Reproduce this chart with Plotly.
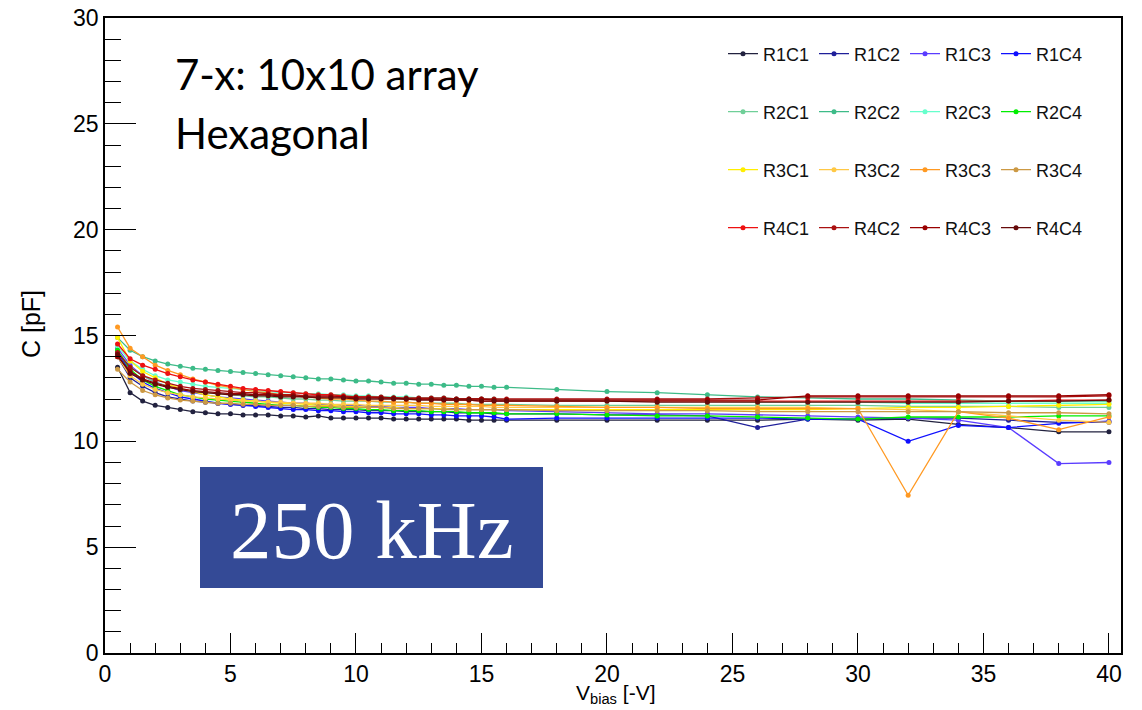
import plotly.graph_objects as go

# ---------------- data ----------------
V_BIAS = [0.5, 1, 1.5, 2, 2.5, 3, 3.5, 4, 4.5, 5, 5.5, 6, 6.5, 7, 7.5, 8,
          8.5, 9, 9.5, 10, 10.5, 11, 11.5, 12, 12.5, 13, 13.5, 14, 14.5, 15, 15.5, 16,
          18, 20, 22, 24, 26, 28, 30, 32, 34, 36, 38, 40]

R1C1 = [13.5, 12.3, 11.9, 11.7, 11.6, 11.5, 11.4, 11.35, 11.3, 11.3, 11.25, 11.25, 11.25, 11.2, 11.2, 11.15,
        11.2, 11.1, 11.1, 11.1, 11.1, 11.1, 11.05, 11.05, 11.05, 11.05, 11.05, 11.05, 11.0, 11.0, 11.0, 11.0,
        11.0, 11.0, 11.0, 11.0, 11.0, 11.05, 11.0, 11.05, 10.8, 10.65, 10.45, 10.45]
R1C2 = [14.0, 13.0, 12.6, 12.3, 12.1, 12.0, 11.9, 11.85, 11.8, 11.75, 11.7, 11.7, 11.65, 11.6, 11.6, 11.55,
        11.55, 11.5, 11.5, 11.5, 11.45, 11.45, 11.45, 11.4, 11.4, 11.4, 11.4, 11.35, 11.35, 11.35, 11.3, 11.3,
        11.3, 11.25, 11.25, 11.2, 10.65, 11.05, 11.05, 11.1, 11.1, 11.0, 10.9, 10.9]
R1C3 = [14.4, 13.6, 13.1, 12.8, 12.6, 12.4, 12.3, 12.2, 12.1, 12.05, 12.0, 11.95, 11.9, 11.85, 11.8, 11.8,
        11.75, 11.75, 11.7, 11.7, 11.65, 11.65, 11.6, 11.6, 11.6, 11.55, 11.55, 11.55, 11.5, 11.5, 11.5, 11.45,
        11.4, 11.35, 11.3, 11.3, 11.25, 11.2, 11.15, 11.1, 11.0, 10.65, 8.95, 9.0]
R1C4 = [14.2, 13.3, 12.8, 12.5, 12.3, 12.1, 12.0, 11.9, 11.8, 11.75, 11.7, 11.65, 11.6, 11.55, 11.5, 11.5,
        11.45, 11.45, 11.4, 11.4, 11.35, 11.35, 11.3, 11.3, 11.3, 11.25, 11.25, 11.2, 11.2, 11.2, 11.15, 11.05,
        11.1, 11.1, 11.1, 11.1, 11.1, 11.05, 11.05, 10.0, 10.75, 10.65, 10.85, 10.95]
R2C1 = [14.3, 13.5, 13.1, 12.8, 12.6, 12.45, 12.35, 12.3, 12.25, 12.2, 12.15, 12.1, 12.1, 12.05, 12.0, 12.0,
        11.95, 11.95, 11.9, 11.9, 11.9, 11.85, 11.85, 11.85, 11.8, 11.8, 11.8, 11.8, 11.75, 11.75, 11.75, 11.75,
        11.7, 11.7, 11.7, 11.7, 11.7, 11.7, 11.7, 11.65, 11.65, 11.65, 11.6, 11.6]
R2C2 = [14.9, 14.3, 14.0, 13.8, 13.65, 13.55, 13.45, 13.4, 13.35, 13.3, 13.25, 13.2, 13.15, 13.1, 13.05, 13.0,
        12.95, 12.95, 12.9, 12.85, 12.85, 12.8, 12.75, 12.75, 12.7, 12.7, 12.65, 12.65, 12.6, 12.6, 12.55, 12.55,
        12.45, 12.35, 12.3, 12.2, 12.1, 12.05, 12.0, 12.0, 11.95, 11.9, 11.9, 11.9]
R2C3 = [14.5, 13.8, 13.4, 13.1, 12.9, 12.8, 12.7, 12.6, 12.55, 12.5, 12.45, 12.4, 12.35, 12.3, 12.3, 12.25,
        12.25, 12.2, 12.2, 12.15, 12.15, 12.1, 12.1, 12.1, 12.05, 12.05, 12.05, 12.0, 12.0, 12.0, 12.0, 11.95,
        11.95, 11.9, 11.9, 11.9, 11.85, 11.85, 11.85, 11.8, 11.8, 11.8, 11.8, 11.8]
R2C4 = [14.3, 13.4, 12.9, 12.6, 12.4, 12.2, 12.1, 12.0, 11.95, 11.9, 11.85, 11.8, 11.75, 11.7, 11.7, 11.65,
        11.6, 11.6, 11.55, 11.55, 11.5, 11.5, 11.45, 11.45, 11.45, 11.4, 11.4, 11.4, 11.35, 11.35, 11.35, 11.3,
        11.3, 11.25, 11.2, 11.2, 11.15, 11.1, 11.05, 11.15, 11.15, 11.15, 11.2, 11.2]
R3C1 = [14.9, 13.8, 13.3, 13.0, 12.7, 12.5, 12.35, 12.2, 12.1, 12.0, 11.95, 11.9, 11.85, 11.8, 11.8, 11.75,
        11.7, 11.7, 11.65, 11.65, 11.6, 11.6, 11.6, 11.55, 11.55, 11.55, 11.55, 11.5, 11.5, 11.5, 11.5, 11.5,
        11.5, 11.5, 11.5, 11.5, 11.5, 11.5, 11.55, 11.6, 11.6, 11.65, 11.7, 11.75]
R3C2 = [14.0, 13.1, 12.7, 12.45, 12.3, 12.2, 12.1, 12.05, 12.0, 11.95, 11.9, 11.9, 11.85, 11.85, 11.8, 11.8,
        11.8, 11.75, 11.75, 11.75, 11.7, 11.7, 11.7, 11.7, 11.7, 11.65, 11.65, 11.65, 11.65, 11.65, 11.6, 11.6,
        11.6, 11.6, 11.6, 11.6, 11.6, 11.6, 11.55, 11.5, 11.4, 11.2, 11.0, 10.9]
R3C3 = [15.4, 14.4, 14.0, 13.6, 13.35, 13.15, 12.95, 12.8, 12.65, 12.55, 12.45, 12.35, 12.3, 12.2, 12.15, 12.1,
        12.05, 12.0, 12.0, 11.95, 11.9, 11.9, 11.85, 11.85, 11.8, 11.8, 11.75, 11.75, 11.75, 11.7, 11.7, 11.7,
        11.65, 11.6, 11.6, 11.55, 11.55, 11.55, 11.55, 7.45, 11.4, 11.1, 10.55, 11.15]
R3C4 = [13.4, 12.8, 12.4, 12.2, 12.05, 11.95, 11.9, 11.85, 11.8, 11.8, 11.75, 11.75, 11.7, 11.7, 11.7, 11.65,
        11.65, 11.65, 11.6, 11.6, 11.6, 11.6, 11.55, 11.55, 11.55, 11.55, 11.5, 11.5, 11.5, 11.5, 11.5, 11.5,
        11.45, 11.45, 11.45, 11.45, 11.4, 11.4, 11.4, 11.4, 11.4, 11.35, 11.35, 11.3]
R4C1 = [14.6, 13.9, 13.6, 13.4, 13.2, 13.05, 12.9, 12.8, 12.7, 12.6, 12.5, 12.45, 12.4, 12.35, 12.3, 12.25,
        12.2, 12.2, 12.15, 12.1, 12.1, 12.05, 12.05, 12.0, 12.0, 12.0, 11.95, 11.95, 11.95, 11.9, 11.9, 11.9,
        11.9, 11.9, 11.9, 11.9, 11.9, 11.9, 11.9, 11.9, 11.9, 11.9, 11.95, 11.95]
R4C2 = [14.2, 13.5, 13.1, 12.9, 12.75, 12.6, 12.5, 12.45, 12.4, 12.35, 12.3, 12.3, 12.25, 12.2, 12.2, 12.15,
        12.15, 12.15, 12.1, 12.1, 12.1, 12.1, 12.05, 12.05, 12.05, 12.05, 12.05, 12.0, 12.0, 12.0, 12.0, 12.0,
        12.0, 12.0, 12.0, 12.0, 12.05, 12.1, 12.1, 12.1, 12.1, 12.1, 12.1, 12.15]
R4C3 = [14.0, 13.3, 12.95, 12.75, 12.6, 12.5, 12.4, 12.35, 12.3, 12.25, 12.25, 12.2, 12.2, 12.15, 12.15, 12.1,
        12.1, 12.1, 12.1, 12.05, 12.05, 12.05, 12.05, 12.0, 12.0, 12.0, 12.0, 12.0, 12.0, 12.0, 11.95, 11.95,
        11.95, 11.95, 11.95, 11.95, 11.95, 12.15, 12.15, 12.15, 12.15, 12.15, 12.15, 12.2]
R4C4 = [14.1, 13.2, 12.9, 12.7, 12.55, 12.45, 12.35, 12.3, 12.25, 12.2, 12.2, 12.15, 12.15, 12.1, 12.1, 12.1,
        12.05, 12.05, 12.05, 12.0, 12.0, 12.0, 12.0, 12.0, 11.95, 11.95, 11.95, 11.95, 11.95, 11.9, 11.9, 11.9,
        11.9, 11.9, 11.85, 11.85, 11.85, 11.85, 11.85, 11.85, 11.85, 11.9, 11.9, 11.95]

SERIES_NAMES = ["R1C1", "R1C2", "R1C3", "R1C4",
                "R2C1", "R2C2", "R2C3", "R2C4",
                "R3C1", "R3C2", "R3C3", "R3C4",
                "R4C1", "R4C2", "R4C3", "R4C4"]
SERIES_VALUES = [R1C1, R1C2, R1C3, R1C4, R2C1, R2C2, R2C3, R2C4,
                 R3C1, R3C2, R3C3, R3C4, R4C1, R4C2, R4C3, R4C4]
COLORS = ["#22223f", "#1f1f99", "#5a3cff", "#1010ff",
          "#6fcf98", "#3dbb88", "#66ffcc", "#00ee00",
          "#ffee00", "#ffc845", "#ff9922", "#cc9944",
          "#ee1111", "#aa1111", "#990000", "#660a0a"]

Y_TICKS = [0, 5, 10, 15, 20, 25, 30]
X_TICKS = [0, 5, 10, 15, 20, 25, 30, 35, 40]

# ---------------- figure ----------------
W, H = 1142, 710
PLOT_L, PLOT_R, PLOT_T, PLOT_B = 105, 1121, 18, 653   # plot frame in page pixels
L, T = PLOT_L, PLOT_T
R = W - PLOT_R
B = H - PLOT_B
PW, PH = PLOT_R - PLOT_L, PLOT_B - PLOT_T


def px_x(p):
    return (p - PLOT_L) / PW


def px_y(p):
    return (PLOT_B - p) / PH


fig = go.Figure()
legend_ids = ["legend", "legend2", "legend3", "legend4"]
for i, (name, vals, col) in enumerate(zip(SERIES_NAMES, SERIES_VALUES, COLORS)):
    fig.add_trace(go.Scatter(
        x=V_BIAS, y=vals, name=name, mode="lines+markers",
        line=dict(color=col, width=1.3),
        marker=dict(color=col, size=5),
        legend=legend_ids[i // 4],
    ))

row_y = [54, 112, 170, 228]
legend_common = dict(
    orientation="h", xanchor="left", yanchor="middle",
    x=px_x(723), font=dict(family="Liberation Sans", size=18, color="#111"),
    bgcolor="rgba(0,0,0,0)", entrywidth=46, entrywidthmode="pixels",
    itemwidth=30, tracegroupgap=0,
)
legend_layouts = {}
for k, lid in enumerate(legend_ids):
    legend_layouts[lid] = dict(legend_common, y=px_y(row_y[k]))

fig.update_layout(
    width=W, height=H,
    margin=dict(l=L, r=R, t=T, b=B, autoexpand=False),
    paper_bgcolor="white", plot_bgcolor="white",
    showlegend=True,
    **legend_layouts,
    xaxis=dict(
        range=[0, 40.48], showgrid=False, zeroline=False, automargin=False,
        showline=True, linecolor="black", linewidth=1.5, mirror=True,
        tickvals=X_TICKS, ticks="inside", ticklen=20, tickwidth=1.2, tickcolor="black",
        minor=dict(dtick=1, ticks="inside", ticklen=10, tickwidth=1.2, tickcolor="black"),
        tickfont=dict(family="Liberation Sans", size=23, color="black"),
    ),
    yaxis=dict(
        range=[0, 30], showgrid=False, zeroline=False, automargin=False,
        showline=True, linecolor="black", linewidth=1.5, mirror=True,
        tickvals=Y_TICKS, ticks="inside", ticklen=31, tickwidth=1.2, tickcolor="black",
        minor=dict(dtick=1, ticks="inside", ticklen=16, tickwidth=1.2, tickcolor="black"),
        tickfont=dict(family="Liberation Sans", size=23, color="black"),
    ),
)

# axis titles
fig.add_annotation(xref="paper", yref="paper", x=px_x(615), y=px_y(694),
                   xanchor="center", yanchor="middle", showarrow=False,
                   text="V<sub>bias</sub> [-V]",
                   font=dict(family="Liberation Sans", size=21, color="black"))
fig.add_annotation(xref="paper", yref="paper", x=px_x(31), y=px_y(324),
                   xanchor="center", yanchor="middle", showarrow=False, textangle=-90,
                   text="C [pF]",
                   font=dict(family="Liberation Sans", size=25, color="black"))

# labels
fig.add_annotation(xref="paper", yref="paper", x=px_x(173), y=px_y(74),
                   xanchor="left", yanchor="middle", showarrow=False,
                   text="7-x: 10x10 array",
                   font=dict(family="Lato", size=42, color="black"))
fig.add_annotation(xref="paper", yref="paper", x=px_x(173), y=px_y(133),
                   xanchor="left", yanchor="middle", showarrow=False,
                   text="Hexagonal",
                   font=dict(family="Lato", size=42, color="black"))

# blue frequency box
fig.add_shape(type="rect", xref="paper", yref="paper",
              x0=px_x(200), x1=px_x(543), y0=px_y(588), y1=px_y(467),
              fillcolor="#344a96", line=dict(color="#344a96", width=0), layer="above")
fig.add_annotation(xref="paper", yref="paper", x=px_x(371.5), y=px_y(530),
                   xanchor="center", yanchor="middle", showarrow=False,
                   text="250 kHz",
                   font=dict(family="Liberation Serif", size=83, color="white"))

fig.write_html("out.html",
               config={"displayModeBar": False},
               post_script="document.body.style.margin='0';document.body.style.overflow='hidden';")
